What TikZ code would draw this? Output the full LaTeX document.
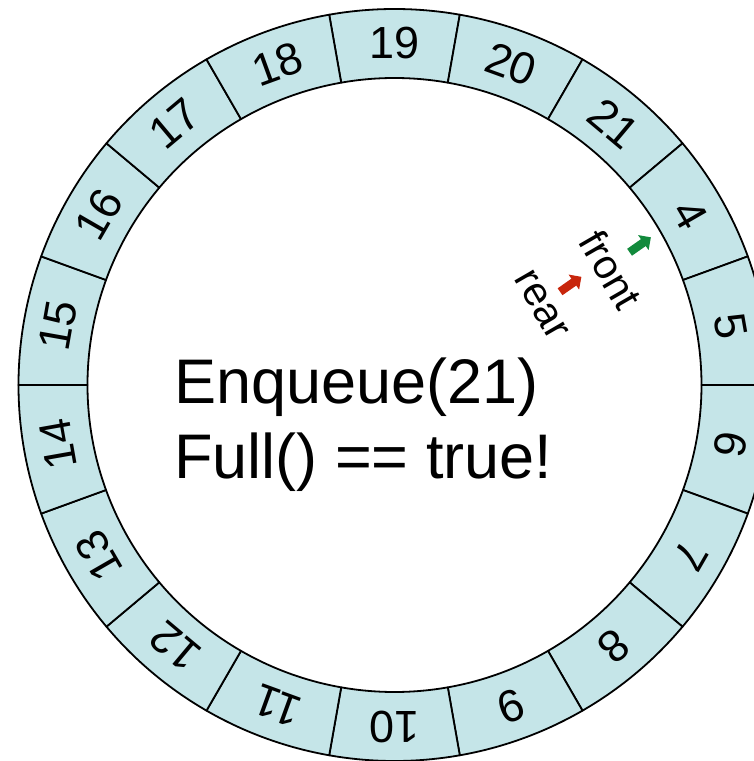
\documentclass[tikz,border=0pt]{standalone}
\usepackage{fontspec}
\setmainfont{Liberation Sans}
\usetikzlibrary{shapes.arrows}
\definecolor{ringfill}{HTML}{C5E5E8}
\definecolor{frontgreen}{HTML}{128A3C}
\definecolor{rearred}{HTML}{C8260C}

\begin{document}
\begin{tikzpicture}[
    x=1pt, y=1pt,
    cell/.style={
      draw=black, line width=1.8pt, fill=ringfill, line join=round
    },
    celllabel/.style={
      font=\fontsize{45}{45}\selectfont, inner sep=0pt
    },
    pointer/.style={
      font=\fontsize{41}{41}\selectfont, inner sep=0pt, rotate=-60
    },
    marker/.style={
      single arrow, fill=#1, draw=none, inner sep=4pt,
      minimum height=26pt, single arrow head extend=5pt, rotate=35
    },
  ]
  \useasboundingbox (-394.5,-376) rectangle (358.5,385);

  % =================== Circular buffer ===================
  \foreach \n [count=\i from 0] in {19,20,21,4,5,6,7,8,9,10,11,12,13,14,15,16,17,18} {
    \pgfmathsetmacro{\ang}{90-20*\i}
    \draw[cell] ({\ang-10}:307) arc[start angle=\ang-10, end angle=\ang+10, radius=307]
      -- ({\ang+10}:376) arc[start angle=\ang+10, end angle=\ang-10, radius=376] -- cycle;
    \node[celllabel, rotate=\ang-90] (c\n) at (\ang:341.5) {\n};
  }

  % =================== Front / rear pointers ===================
  \node[marker=frontgreen] (fa) at (244,139) {};
  \node[pointer] (front) at (216.5,115) {front};
  \node[marker=rearred] (ra) at (174.5,99.5) {};
  \node[pointer] (rear) at (146.5,80) {rear};

  % =================== Message ===================
  \node[font=\fontsize{63}{75}\selectfont, align=left, anchor=base west, inner sep=0pt]
    (msg) at (-220.5,-93) {Enqueue(21)\\Full() == true!};

\end{tikzpicture}
\end{document}
